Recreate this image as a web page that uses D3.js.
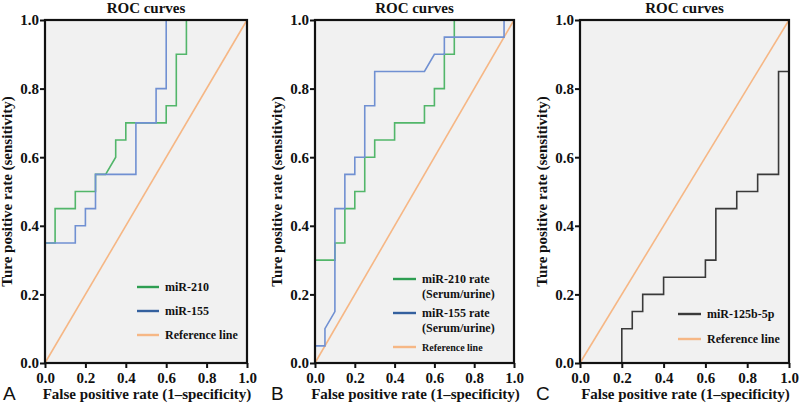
<!DOCTYPE html>
<html><head><meta charset="utf-8">
<script src="https://cdn.jsdelivr.net/npm/d3@7"></script>
<style>
html,body{margin:0;padding:0;background:#fff;}
svg{display:block;}
text{font-family:"Liberation Serif","Times New Roman",serif;font-weight:bold;fill:#111;}
</style></head>
<body>
<svg id="chart" width="800" height="405"></svg>
<script>
// ---- data ----
const tickValues = [0, 0.2, 0.4, 0.6, 0.8, 1.0];
const titleText = "ROC curves";
const xLabelText = "False positive rate (1\u2013specificity)";
const yLabelText = "Ture positive rate (sensitivity)";
const panelLetters = ["A", "B", "C"];

const aMiR210Fpr = [0,0,0.05,0.05,0.15,0.15,0.25,0.25,0.30,0.35,0.35,0.40,0.40,0.60,0.60,0.65,0.65,0.70,0.70,1.0];
const aMiR210Tpr = [0,0.35,0.35,0.45,0.45,0.50,0.50,0.55,0.55,0.60,0.65,0.65,0.70,0.70,0.75,0.75,0.90,0.90,1.0,1.0];
const aMiR155Fpr = [0,0,0.15,0.15,0.20,0.20,0.25,0.25,0.45,0.45,0.55,0.55,0.60,0.60,1.0];
const aMiR155Tpr = [0,0.35,0.35,0.40,0.40,0.45,0.45,0.55,0.55,0.70,0.70,0.80,0.80,1.0,1.0];

const bMiR210Fpr = [0,0,0.10,0.10,0.15,0.15,0.20,0.20,0.25,0.25,0.30,0.30,0.40,0.40,0.55,0.55,0.60,0.60,0.65,0.65,0.70,0.70,1.0];
const bMiR210Tpr = [0,0.30,0.30,0.35,0.35,0.45,0.45,0.50,0.50,0.60,0.60,0.65,0.65,0.70,0.70,0.75,0.75,0.80,0.80,0.90,0.90,1.0,1.0];
const bMiR155Fpr = [0,0,0.05,0.05,0.10,0.10,0.15,0.15,0.20,0.20,0.25,0.25,0.30,0.30,0.55,0.60,0.65,0.65,0.95,0.95,1.0];
const bMiR155Tpr = [0,0.05,0.05,0.10,0.15,0.45,0.45,0.55,0.55,0.60,0.60,0.75,0.75,0.85,0.85,0.90,0.90,0.95,0.95,1.0,1.0];

const cMiR125Fpr = [0,0.20,0.20,0.25,0.25,0.30,0.30,0.40,0.40,0.60,0.60,0.65,0.65,0.75,0.75,0.85,0.85,0.95,0.95,1.0,1.0];
const cMiR125Tpr = [0,0,0.10,0.10,0.15,0.15,0.20,0.20,0.25,0.25,0.30,0.30,0.45,0.45,0.50,0.50,0.55,0.55,0.85,0.85,1.0];

const refFpr = [0, 1];
const refTpr = [0, 1];

// ---- styles ----
const GREEN = "#52b66a", GREEN_LEG = "#2e9e52";
const BLUE = "#7090d2", BLUE_LEG = "#34609e";
const ORANGE = "#f6b785";
const BLACK = "#3a3a3a";

const svg = d3.select("#chart");

const panels = [
  { x0: 45, x1: 247, letterX: 3,
    series: [
      { fpr: aMiR210Fpr, tpr: aMiR210Tpr, color: GREEN },
      { fpr: aMiR155Fpr, tpr: aMiR155Tpr, color: BLUE }
    ],
    legend: [
      { lines: ["miR-210"], color: GREEN_LEG, y: 287, size: 12 },
      { lines: ["miR-155"], color: BLUE_LEG, y: 311, size: 12 },
      { lines: ["Reference line"], color: ORANGE, y: 335, size: 12 }
    ], legX0: 137, legX1: 159 },
  { x0: 315, x1: 514, letterX: 271,
    series: [
      { fpr: bMiR210Fpr, tpr: bMiR210Tpr, color: GREEN },
      { fpr: bMiR155Fpr, tpr: bMiR155Tpr, color: BLUE }
    ],
    legend: [
      { lines: ["miR-210 rate", "(Serum/urine)"], color: GREEN_LEG, y: 279, size: 12 },
      { lines: ["miR-155 rate", "(Serum/urine)"], color: BLUE_LEG, y: 313, size: 12 },
      { lines: ["Reference line"], color: ORANGE, y: 347, size: 10 }
    ], legX0: 393, legX1: 416 },
  { x0: 580, x1: 789, letterX: 536,
    series: [
      { fpr: cMiR125Fpr, tpr: cMiR125Tpr, color: BLACK }
    ],
    legend: [
      { lines: ["miR-125b-5p"], color: BLACK, y: 314, size: 12 },
      { lines: ["Reference line"], color: ORANGE, y: 339, size: 12 }
    ], legX0: 678, legX1: 701 }
];

const yTop = 20, yBot = 363;

panels.forEach((p, i) => {
  const x = d3.scaleLinear().domain([0, 1]).range([p.x0, p.x1]);
  const y = d3.scaleLinear().domain([0, 1]).range([yBot, yTop]);
  const g = svg.append("g");

  g.append("rect").attr("x", p.x0).attr("y", yTop)
    .attr("width", p.x1 - p.x0).attr("height", yBot - yTop)
    .attr("fill", "#f1f1f1");

  const line = d3.line().x(d => x(d[0])).y(d => y(d[1]));

  g.append("path").datum(d3.zip(refFpr, refTpr)).attr("d", line)
    .attr("fill", "none").attr("stroke", ORANGE).attr("stroke-width", 1.6);

  p.series.forEach(s => {
    g.append("path").datum(d3.zip(s.fpr, s.tpr)).attr("d", line)
      .attr("fill", "none").attr("stroke", s.color).attr("stroke-width", 1.6)
      .attr("stroke-linejoin", "miter");
  });

  // axes
  const xAxis = d3.axisBottom(x).tickValues(tickValues).tickFormat(d3.format(".1f"))
    .tickSize(5).tickPadding(4);
  const yAxis = d3.axisLeft(y).tickValues(tickValues).tickFormat(d3.format(".1f"))
    .tickSize(5).tickPadding(1);

  const gx = g.append("g").attr("transform", `translate(0,${yBot})`).call(xAxis);
  const gy = g.append("g").attr("transform", `translate(${p.x0},0)`).call(yAxis);
  [gx, gy].forEach(a => {
    a.select(".domain").remove();
    a.selectAll(".tick line").attr("stroke", "#111").attr("stroke-width", 2);
    a.selectAll(".tick text").attr("font-size", 15)
      .attr("font-family", "Liberation Serif, serif").attr("font-weight", "bold").attr("fill", "#111");
  });

  // frame
  g.append("rect").attr("x", p.x0).attr("y", yTop)
    .attr("width", p.x1 - p.x0).attr("height", yBot - yTop)
    .attr("fill", "none").attr("stroke", "#111").attr("stroke-width", 2.2);

  // title
  g.append("text").attr("x", (p.x0 + p.x1) / 2).attr("y", 13)
    .attr("text-anchor", "middle").attr("font-size", 15).text(titleText);

  // x label
  g.append("text").attr("x", (p.x0 + p.x1) / 2 + 1).attr("y", 399)
    .attr("text-anchor", "middle").attr("font-size", 15).text(xLabelText);

  // y label
  g.append("text")
    .attr("transform", `translate(${p.x0 - 33},${(yTop + yBot) / 2}) rotate(-90)`)
    .attr("text-anchor", "middle").attr("font-size", 15).text(yLabelText);

  // panel letter
  g.append("text").attr("x", p.letterX).attr("y", 400)
    .style("font-family", "'Liberation Sans', Arial, sans-serif").style("font-weight", "normal")
    .attr("font-size", 19).attr("fill", "#222").text(panelLetters[i]);

  // legend
  p.legend.forEach(l => {
    g.append("line").attr("x1", p.legX0).attr("x2", p.legX1)
      .attr("y1", l.y).attr("y2", l.y)
      .attr("stroke", l.color).attr("stroke-width", 2.4);
    l.lines.forEach((t, k) => {
      g.append("text").attr("x", p.legX1 + 6).attr("y", l.y + 4 + k * 14.5)
        .attr("font-size", l.size).text(t);
    });
  });
});
</script>
</body></html>
